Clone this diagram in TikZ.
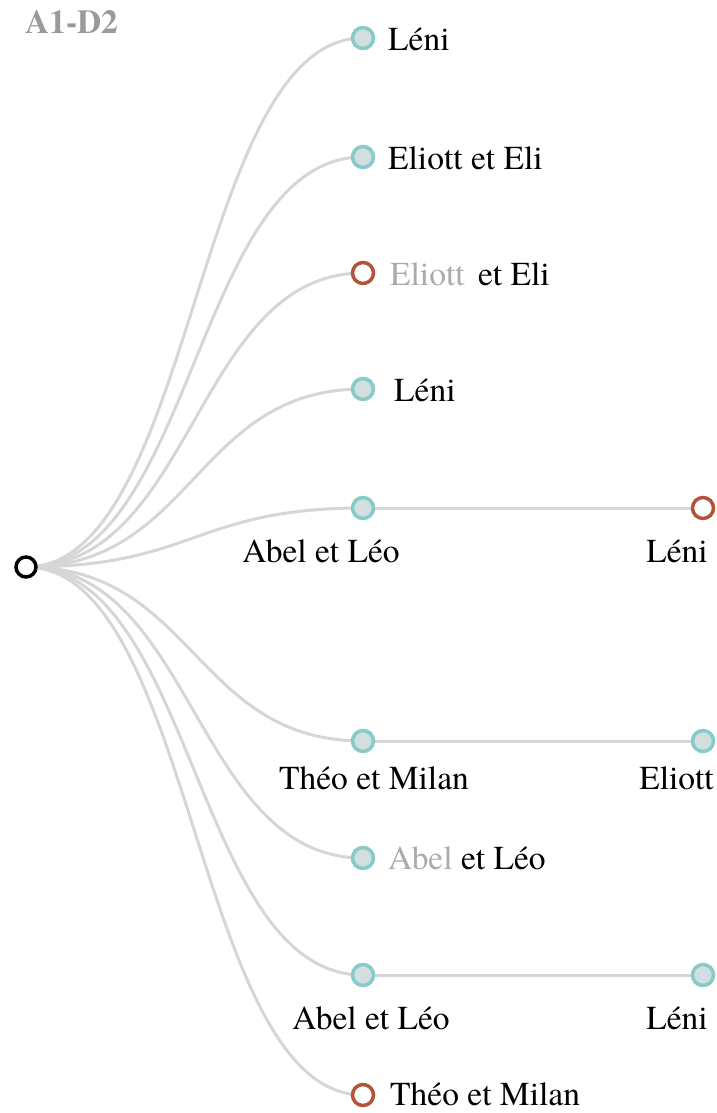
\documentclass[tikz,border=0pt]{standalone}
\usepackage{fontspec}
\setmainfont{texgyretermes}[Extension=.otf, UprightFont=*-regular, BoldFont=*-bold, ItalicFont=*-italic, BoldItalicFont=*-bolditalic]
\usetikzlibrary{calc}
\pgfdeclarelayer{bg}
\pgfsetlayers{bg,main}
\definecolor{edgegray}{HTML}{D6D6D6}
\definecolor{tealstroke}{HTML}{86CACA}
\definecolor{tealfill}{HTML}{D3DEDE}
\definecolor{redstroke}{HTML}{B3543A}
\definecolor{txtgray}{HTML}{ABABAB}
\definecolor{titlegray}{HTML}{9A9A9A}
\begin{document}
\begin{tikzpicture}[x=1pt,y=-1pt,
  tnode/.style={circle, draw=tealstroke, fill=tealfill, line width=3.5pt, minimum size=21pt, inner sep=0pt},
  rnode/.style={circle, draw=redstroke, fill=white, line width=3.5pt, minimum size=21pt, inner sep=0pt},
  rootnode/.style={circle, draw=black, fill=white, line width=3.5pt, minimum size=20pt, inner sep=0pt},
  lbl/.style={font=\fontsize{33.5}{40}\selectfont, inner sep=0pt, anchor=base west},
  lblc/.style={lbl, anchor=base},
  lble/.style={lbl, anchor=base east},
  edge/.style={draw=edgegray, line width=3pt}]
\useasboundingbox (0,0) rectangle (716,1113);

\node[font=\bfseries\fontsize{33.5}{40}\selectfont, text=titlegray, inner sep=0pt, anchor=base west] (title) at (25,34) {A1-D2};

\node[rootnode] (root) at (26,567) {};
\coordinate (mid) at (194.5,567);

\node[tnode] (c1) at (363,38) {};
\node[tnode] (c2) at (363,157) {};
\node[rnode] (c3) at (363,273) {};
\node[tnode] (c4) at (363,389) {};
\node[tnode] (c5) at (363,508) {};
\node[rnode] (c5a) at (703,508) {};
\node[tnode] (c6) at (363,741) {};
\node[tnode] (c6a) at (703,741) {};
\node[tnode] (c7) at (363,858) {};
\node[tnode] (c8) at (363,975) {};
\node[tnode] (c8a) at (703,975) {};
\node[rnode] (c9) at (363,1095) {};

\node[lbl] (l1) at (388,51) {Léni};
\node[lbl] (l2) at (388,169) {Eliott et Eli};
\node[lbl] (l3) at (390,285) {\textcolor{txtgray}{Eliott}\hspace{5pt} et Eli};
\node[lbl] (l4) at (394,401) {Léni};
\node[lblc] (l5) at (321,562) {Abel et Léo};
\node[lble] (l5a) at (708,562) {Léni};
\node[lblc] (l6) at (374,789) {Théo et Milan};
\node[lble] (l6a) at (714,789) {Eliott};
\node[lbl] (l7) at (388,869) {\textcolor{txtgray}{Abel} et Léo};
\node[lblc] (l8) at (371,1029) {Abel et Léo};
\node[lble] (l8a) at (708,1029) {Léni};
\node[lbl] (l9) at (390,1105) {Théo et Milan};

\begin{pgfonlayer}{bg}
\foreach \c in {c1,c2,c3,c4,c5,c6,c7,c8,c9}{
  \draw[edge] (root.center) .. controls (mid |- root) and (mid |- \c) .. (\c.center);
}
\draw[edge] (c5.center) -- (c5a.center);
\draw[edge] (c6.center) -- (c6a.center);
\draw[edge] (c8.center) -- (c8a.center);
\end{pgfonlayer}
\end{tikzpicture}
\end{document}
